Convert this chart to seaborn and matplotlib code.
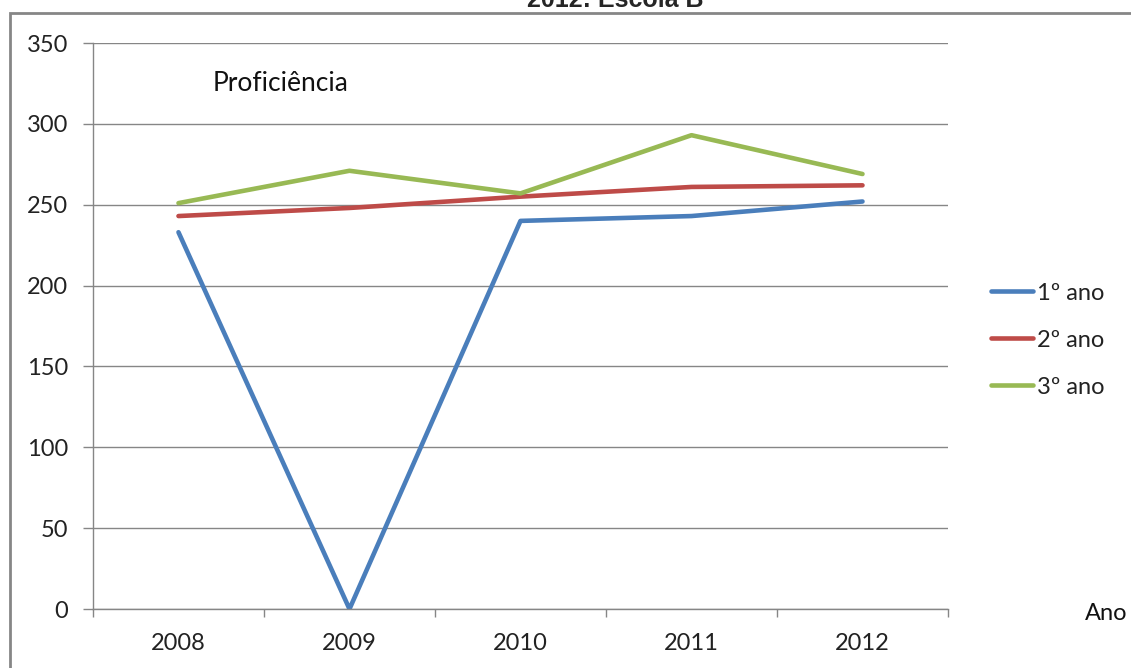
import pandas as pd
import seaborn as sns
import matplotlib.pyplot as plt
import matplotlib.patches as patches

anos = ['2008', '2009', '2010', '2011', '2012']
series = ['1º ano', '2º ano', '3º ano']
ano1 = [233, 0, 240, 243, 252]
ano2 = [243, 248, 255, 261, 262]
ano3 = [251, 271, 257, 293, 269]
cores = ['#4A7EBB', '#BE4B48', '#98B954']

rows = []
for nome, vals in zip(series, [ano1, ano2, ano3]):
    for i, v in enumerate(vals):
        rows.append({'pos': i, 'valor': v, 'serie': nome})
df = pd.DataFrame(rows)

sns.set_style('white')
plt.rcParams['font.family'] = ['Lato', 'DejaVu Sans']

fig = plt.figure(figsize=(11.31, 6.68), dpi=100)
ax = fig.add_axes([0.0822, 0.0883, 0.756, 0.8473])

sns.lineplot(data=df, x='pos', y='valor', hue='serie', palette=cores,
             linewidth=3.3, ax=ax, legend=True)

ax.set_xlim(-0.5, 4.5)
ax.set_ylim(0, 350)
ax.set_yticks(range(0, 351, 50))
ax.yaxis.grid(True, color='#868686', linewidth=1)
ax.set_axisbelow(True)
for s in ['top', 'right']:
    ax.spines[s].set_visible(False)
for s in ['left', 'bottom']:
    ax.spines[s].set_color('#868686')
    ax.spines[s].set_linewidth(1)

# tick marks at category boundaries, labels at centers
ax.set_xticks([i - 0.5 for i in range(6)])
ax.set_xticklabels([])
ax.set_xticks(range(5), minor=True)
ax.set_xticklabels(anos, minor=True)
ax.tick_params(axis='x', which='major', direction='out', length=6, color='#868686', width=1, bottom=True)
ax.tick_params(axis='x', which='minor', length=0, pad=17, labelsize=17, labelcolor='#222222')
ax.tick_params(axis='y', direction='out', length=7, color='#868686', width=1, left=True,
               pad=11, labelsize=17, labelcolor='#222222')
ax.set_xlabel('')
ax.set_ylabel('')

ax.text(0.2, 325, 'Proficiência', fontsize=19, ha='left', va='center', color='#111111')

leg = ax.legend(loc='center left', bbox_to_anchor=(1.025, 0.475), frameon=False,
                fontsize=17, handlelength=1.8, handletextpad=0.15, labelspacing=1.1)
for t in leg.get_texts():
    t.set_color('#222222')

fig.text(0.959, 0.082, 'Ano', fontsize=17, ha='left', va='center', color='#111111')
fig.text(0.544, 0.9895, '2012: Escola B', fontsize=18, fontweight='bold',
         family='Liberation Sans', ha='center', va='baseline')

fig.patches.append(patches.Rectangle((0.0088, -0.05), 1.1, 0.0305 + 1.0, transform=fig.transFigure,
                                     fill=False, edgecolor='#868686', linewidth=2, clip_on=False))

fig.savefig('out.png', dpi=100)
